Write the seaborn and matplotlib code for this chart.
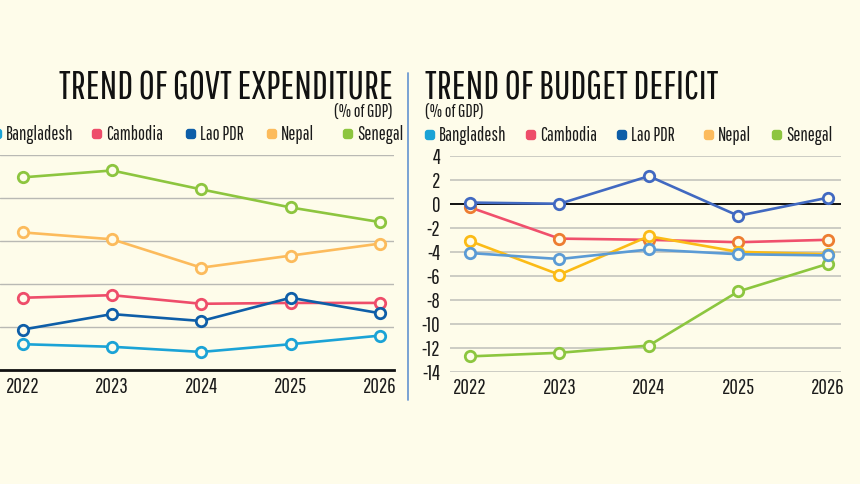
import matplotlib
matplotlib.use("Agg")
import matplotlib.pyplot as plt
from matplotlib.patches import FancyBboxPatch
from matplotlib.transforms import IdentityTransform
import pandas as pd
import seaborn as sns

years = [2022, 2023, 2024, 2025, 2026]
countries = ["Bangladesh", "Cambodia", "Lao PDR", "Nepal", "Senegal"]

# govt expenditure (% of GDP) - left chart shows no y labels, read off the gridlines
exp_bangladesh = [13.0, 12.7, 12.1, 13.0, 14.0]
exp_cambodia = [18.4, 18.7, 17.7, 17.8, 17.8]
exp_lao = [14.7, 16.5, 15.7, 18.4, 16.6]
exp_nepal = [26.0, 25.2, 21.9, 23.3, 24.7]
exp_senegal = [32.4, 33.2, 31.0, 28.9, 27.2]

# budget deficit (% of GDP)
def_bangladesh = [-4.1, -4.6, -3.8, -4.2, -4.3]
def_cambodia = [-0.3, -2.9, -3.0, -3.2, -3.0]
def_lao = [0.1, 0.0, 2.3, -1.0, 0.5]
def_nepal = [-3.1, -5.9, -2.7, -4.0, -4.2]
def_senegal = [-12.7, -12.4, -11.8, -7.3, -5.0]

exp_ticks = [10, 15, 20, 25, 30, 35]
def_ticks = [-14, -12, -10, -8, -6, -4, -2, 0, 2, 4]

BG = "#fefcea"
legend_colors = {"Bangladesh": "#1ba3d6", "Cambodia": "#ee4d6a", "Lao PDR": "#0e5ea8",
                 "Nepal": "#fcbb5c", "Senegal": "#8dc53f"}
exp_colors = legend_colors
def_colors = {"Bangladesh": "#5b9bd5", "Cambodia": "#f0506c", "Lao PDR": "#4169c1",
              "Nepal": "#fbbb16", "Senegal": "#8cc63f"}
def_marker_edge = dict(def_colors, Cambodia="#ed7d31")

exp_df = pd.DataFrame({
    "year": years * 5,
    "country": [c for c in countries for _ in years],
    "value": exp_bangladesh + exp_cambodia + exp_lao + exp_nepal + exp_senegal,
})
def_df = pd.DataFrame({
    "year": years * 5,
    "country": [c for c in countries for _ in years],
    "value": def_bangladesh + def_cambodia + def_lao + def_nepal + def_senegal,
})

sns.set_theme(style="white")
plt.rcParams["font.family"] = ["Pathway Gothic One", "DejaVu Sans"]
plt.rcParams["axes.unicode_minus"] = False

W, H = 860, 484
fig = plt.figure(figsize=(W / 100, H / 100), dpi=100, facecolor=BG)


def fx(x):
    return x / W


def fy(y):
    return 1 - y / H


TXT = "#1a1a1a"
TICK_FS = 15
LEG_FS = 13.5

# ----- left chart: govt expenditure -----
ax1 = fig.add_axes([fx(0), fy(370), fx(394), (370 - 155) / H], facecolor=BG)
for c in ["Senegal", "Nepal", "Cambodia", "Bangladesh", "Lao PDR"]:
    sns.lineplot(data=exp_df[exp_df.country == c], x="year", y="value", ax=ax1,
                 color=exp_colors[c], lw=1.9, marker="o", ms=7.5, mew=2,
                 mfc=BG, mec=exp_colors[c], legend=False, zorder=3)
ax1.set_xlim(2021.746, 2026.157)
ax1.set_ylim(exp_ticks[0], exp_ticks[-1])
ax1.set_yticks(exp_ticks)
ax1.set_yticklabels([])
ax1.set_xticks(years)
ax1.set_xticklabels([str(y) for y in years], fontsize=TICK_FS, color=TXT)
ax1.tick_params(axis="x", length=0, pad=5)
ax1.tick_params(axis="y", length=0)
ax1.grid(axis="y", color="#b9b9b4", lw=1)
ax1.set_xlabel("")
ax1.set_ylabel("")
for s in ["top", "right", "left"]:
    ax1.spines[s].set_visible(False)
ax1.spines["bottom"].set_color("#111111")
ax1.spines["bottom"].set_linewidth(2)
ax1.spines["bottom"].set_zorder(4)

# ----- right chart: budget deficit -----
ax2 = fig.add_axes([fx(450), fy(372), fx(391), (372 - 155.7) / H], facecolor=BG)
for c in ["Senegal", "Cambodia", "Nepal", "Bangladesh", "Lao PDR"]:
    sns.lineplot(data=def_df[def_df.country == c], x="year", y="value", ax=ax2,
                 color=def_colors[c], lw=1.9, marker="o", ms=7.5, mew=2,
                 mfc=BG, mec=def_marker_edge[c], legend=False, zorder=3)
ax2.axhline(0, color="#111111", lw=1.4, zorder=2)
ax2.set_xlim(2021.776, 2026.149)
ax2.set_ylim(def_ticks[0], def_ticks[-1])
ax2.set_yticks(def_ticks)
ax2.set_yticklabels([str(t) for t in def_ticks], fontsize=TICK_FS, color=TXT)
ax2.set_xticks(years)
ax2.set_xticklabels([str(y) for y in years], fontsize=TICK_FS, color=TXT)
ax2.tick_params(axis="x", length=0, pad=4)
ax2.tick_params(axis="y", length=0, pad=7)
ax2.grid(axis="y", color="#c4c4bd", lw=1.2)
ax2.set_xlabel("")
ax2.set_ylabel("")
for s in ax2.spines.values():
    s.set_visible(False)

# ----- titles -----
fig.text(fx(393), fy(99), "TREND OF GOVT EXPENDITURE", ha="right", va="baseline",
         fontsize=28, color="#111111")
fig.text(fx(393), fy(118), "(% of GDP)", ha="right", va="baseline", fontsize=13, color=TXT)
fig.text(fx(425), fy(99), "TREND OF BUDGET DEFICIT", ha="left", va="baseline",
         fontsize=28, color="#111111")
fig.text(fx(425), fy(118), "(% of GDP)", ha="left", va="baseline", fontsize=13, color=TXT)

# ----- legends (rounded swatches + names) -----
left_legend_x = [-3, 97, 191, 272, 348]
right_legend_x = [430, 531, 622, 709, 777]
for xs, yc in [(left_legend_x, 134), (right_legend_x, 135)]:
    for c, x in zip(countries, xs):
        fig.patches.append(FancyBboxPatch((x - 4, H - yc - 4), 8, 8,
                                          boxstyle="round,pad=1.2,rounding_size=3",
                                          fc=legend_colors[c], ec="none",
                                          transform=IdentityTransform(), figure=fig))
        fig.text(fx(x + 9), fy(yc + 6), c, ha="left", va="baseline", fontsize=LEG_FS, color=TXT)

# divider between the two charts
fig.add_artist(plt.Line2D([fx(408), fx(408)], [fy(73), fy(400)], color="#6f9bd2", lw=1.3))

fig.savefig("out.png", dpi=100, facecolor=BG)
